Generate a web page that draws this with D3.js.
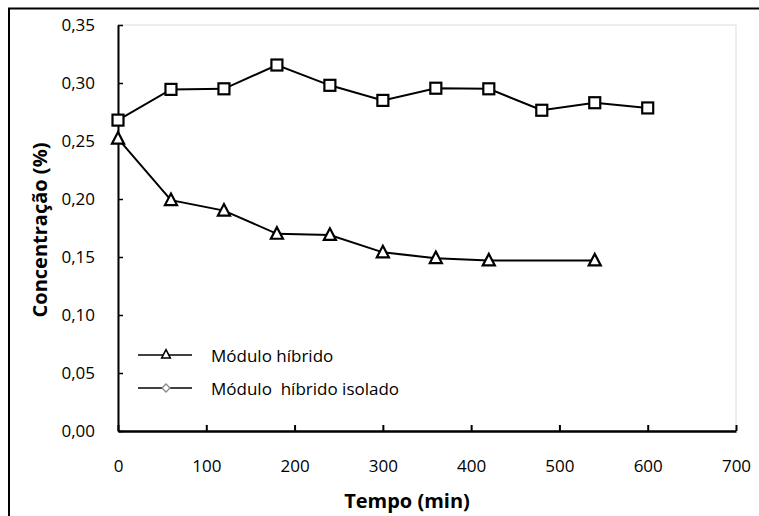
<!DOCTYPE html>
<html>
<head>
<meta charset="utf-8">
<script src="https://cdn.jsdelivr.net/npm/d3@7/dist/d3.min.js"></script>
<style>
  html, body { margin: 0; padding: 0; background: #fff; }
  svg { display: block; }
  text { font-family: "Open Sans", Lato, sans-serif; fill: #000; }
</style>
</head>
<body>
<svg id="chart" width="759" height="516"></svg>
<script>
// Tempo (min) e concentração (%) para cada módulo
const tempoHibrido = [0, 60, 120, 180, 240, 300, 360, 420, 540];
const concHibrido  = [0.252, 0.199, 0.190, 0.170, 0.169, 0.154, 0.149, 0.147, 0.147];

const tempoIsolado = [0, 60, 120, 180, 240, 300, 360, 420, 480, 540, 600];
const concIsolado  = [0.268, 0.2945, 0.295, 0.3155, 0.298, 0.285, 0.2955, 0.295, 0.2765, 0.283, 0.2785];

const xTicks = [0, 100, 200, 300, 400, 500, 600, 700];
const yTicks = [0, 0.05, 0.10, 0.15, 0.20, 0.25, 0.30, 0.35];

const legendLabels = ["Módulo híbrido", "Módulo  híbrido isolado"];

const FONT = "'Open Sans', Lato, sans-serif";
const svg = d3.select("#chart");
const plot = { left: 118, right: 736, top: 25, bottom: 431 };

const x = d3.scaleLinear().domain([0, 700]).range([plot.left, plot.right]);
const y = d3.scaleLinear().domain([0, 0.35]).range([plot.bottom, plot.top]);

const fmt = v => d3.format(".2f")(v).replace(".", ",");

// outer frame (open on the right and bottom edges of the page)
svg.append("rect")
  .attr("x", 9).attr("y", 8.5).attr("width", 900).attr("height", 700)
  .attr("fill", "none").attr("stroke", "#000").attr("stroke-width", 2);

// plot area outline
svg.append("rect")
  .attr("x", plot.left).attr("y", plot.top)
  .attr("width", plot.right - plot.left).attr("height", plot.bottom - plot.top)
  .attr("fill", "none").attr("stroke", "#dcdcdc").attr("stroke-width", 1);

// axes
const xAxis = d3.axisBottom(x).tickValues(xTicks).tickSizeInner(-6).tickSizeOuter(0)
  .tickPadding(29).tickFormat(d3.format("d"));
const gx = svg.append("g").attr("transform", `translate(0,${plot.bottom})`).call(xAxis);
gx.select(".domain").attr("stroke", "#000").attr("stroke-width", 2.5);
gx.selectAll(".tick line").attr("stroke", "#000").attr("stroke-width", 2);
gx.selectAll(".tick text").attr("font-size", 17).attr("font-family", FONT);

const yAxis = d3.axisLeft(y).tickValues(yTicks).tickSizeInner(-5).tickSizeOuter(0)
  .tickPadding(23).tickFormat(fmt);
const gy = svg.append("g").attr("transform", `translate(${plot.left},0)`).call(yAxis);
gy.select(".domain").attr("stroke", "#000").attr("stroke-width", 2);
gy.selectAll(".tick line").attr("stroke", "#000").attr("stroke-width", 1.5);
gy.selectAll(".tick text").attr("font-size", 17).attr("font-family", FONT);

// axis titles
svg.append("text")
  .attr("x", 407).attr("y", 508)
  .attr("text-anchor", "middle")
  .attr("font-size", 20).attr("font-weight", "bold")
  .text("Tempo (min)");

svg.append("text")
  .attr("transform", "translate(47,230) rotate(-90)")
  .attr("text-anchor", "middle")
  .attr("font-size", 20).attr("font-weight", "bold")
  .text("Concentração (%)");

// series lines
const line = d3.line().x(d => x(d[0])).y(d => y(d[1]));
const hibrido = d3.zip(tempoHibrido, concHibrido);
const isolado = d3.zip(tempoIsolado, concIsolado);

svg.append("path").datum(isolado).attr("d", line)
  .attr("fill", "none").attr("stroke", "#000").attr("stroke-width", 2);
svg.append("path").datum(hibrido).attr("d", line)
  .attr("fill", "none").attr("stroke", "#000").attr("stroke-width", 2);

// square markers
svg.append("g").selectAll("rect").data(isolado).join("rect")
  .attr("x", d => x(d[0]) - 5.5).attr("y", d => y(d[1]) - 5.5)
  .attr("width", 11).attr("height", 11)
  .attr("fill", "#fff").attr("stroke", "#000").attr("stroke-width", 2.2);

// triangle markers
const tri = s => `M0,${-s * 0.6}L${s * 0.55},${s * 0.45}L${-s * 0.55},${s * 0.45}Z`;
svg.append("g").selectAll("path").data(hibrido).join("path")
  .attr("transform", d => `translate(${x(d[0])},${y(d[1])})`)
  .attr("d", tri(11))
  .attr("fill", "#fff").attr("stroke", "#000").attr("stroke-width", 2.2);

// legend
const legendY = [355, 388];
const lg = svg.append("g");
legendLabels.forEach((lab, i) => {
  const ly = legendY[i];
  lg.append("line").attr("x1", 138).attr("x2", 192).attr("y1", ly).attr("y2", ly)
    .attr("stroke", "#000").attr("stroke-width", 1.3);
  if (i === 0) {
    lg.append("path").attr("transform", `translate(166,${ly - 0.5})`)
      .attr("d", tri(8)).attr("fill", "#fff").attr("stroke", "#000").attr("stroke-width", 1.5);
  } else {
    lg.append("path").attr("transform", `translate(166,${ly})`)
      .attr("d", "M0,-4L4,0L0,4L-4,0Z").attr("fill", "#fff").attr("stroke", "#888").attr("stroke-width", 1.3);
  }
  lg.append("text").attr("x", 211).attr("y", ly + 7).attr("font-size", 17)
    .attr("font-family", FONT).style("white-space", "pre").text(lab);
});
</script>
</body>
</html>
